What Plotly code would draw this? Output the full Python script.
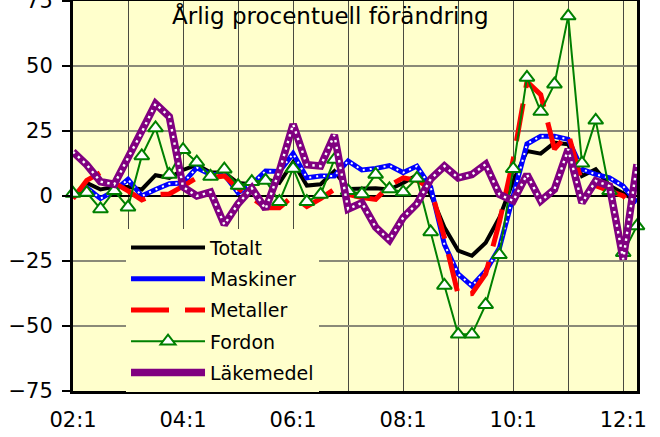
import plotly.graph_objects as go

quarters = [f"{y:02d}:{q}" for y in range(2, 13) for q in range(1, 5)][:42]
tick_quarters = quarters[0::4]
tick_labels = [q if int(q[:2]) % 2 == 0 else "" for q in tick_quarters]

totalt = [0, 5, 2.5, 3.5, 3.5, 2.5, 8, 7, 10, 12, 9, 9, 5, 4.5, 6.5, 5, 13, 4, 4.5, 9.5,
          2.7, 2.7, 3, 2.5, 5, 8, 0.6, -12, -21, -23, -18, -8.3, 5.8, 17.3, 16.3, 20.5, 19.9, 7.7, 10.3, 4,
          1, -2]
maskiner = [-0.6, 3.2, -1, 2, 6.4, 0, 2.5, 4.7, 5, 10.9, 8.3, 8.3, 1.3, 4.5, 9.6, 9.4, 16.3, 7, 7.7, 7.7,
            13.5, 10, 10.6, 11.7, 9, 11.5, 3.5, -18.6, -30, -34.6, -28.8, -20, 0, 20, 23, 23, 21.8, 10.3, 8.3, 7,
            3.8, -2.6]
metaller = [-1, 6, 9, 5, 2, -1.5, 0.6, 0.8, 3.8, 7, 7, 7.7, 3, -1, -4.5, -4.5, 0, -4, -1, 2.6,
            0.6, -0.6, -1.3, 4, 7, 6, 3, -16, -38, -37.5, -30, -10, 14, 44, 39, 18, 24, 5, 4, 2,
            0, -5]
fordon = [1, 1.3, -5, 2, -4.3, 15.4, 26.2, 8.3, 17.8, 13, 7.5, 10.3, 4, 5.5, 6, -2.2, 10.6, -2.2, 0.6, 14,
          2, 0.8, 8.3, 2.7, 1.5, 6.8, -13.8, -34.4, -53.2, -53.2, -41.8, -22.6, 10.5, 45.6, 32.5, 43, 69.2, 12.6, 29.1, 2,
          -21.8, -11.5]
lakemedel = [17, 12, 5.5, 4.5, 14.7, 24.5, 35.5, 30.5, 3.5, 0, 1.5, -11, -3, 3, -5, 9.5, 27.6, 12, 11.5, 23.5,
             -5, -2.6, -12, -17, -8.3, -3, 6.5, 11.5, 7, 8.3, 12.2, 0.6, -1.9, 8.3, -1.9, 2.6, 18, -2.6, 5.8, 3.8,
             -24.4, 12.2]

FONT = "DejaVu Sans"
BG = "#FFFFCC"

fig = go.Figure()

fig.add_trace(go.Scatter(x=quarters, y=totalt, name="Totalt", mode="lines",
                         line=dict(color="black", width=4), legendgroup="a", cliponaxis=False))
fig.add_trace(go.Scatter(x=quarters, y=maskiner, name="Maskiner", mode="lines",
                         line=dict(color="#0000FF", width=5), legendgroup="b", cliponaxis=False))
fig.add_trace(go.Scatter(x=quarters, y=maskiner, mode="lines", showlegend=False, hoverinfo="skip",
                         line=dict(color="white", width=2, dash="2px,5px"), legendgroup="b", cliponaxis=False))
fig.add_trace(go.Scatter(x=quarters, y=metaller, name="Metaller", mode="lines",
                         line=dict(color="#FF0000", width=5, dash="38px,16px"), legendgroup="c", cliponaxis=False))
fig.add_trace(go.Scatter(x=quarters, y=fordon, name="Fordon", mode="lines+markers",
                         line=dict(color="#008000", width=2),
                         marker=dict(symbol="triangle-up", size=13, color="white",
                                     line=dict(color="#008000", width=2)),
                         legendgroup="d", cliponaxis=False))
fig.add_trace(go.Scatter(x=quarters, y=lakemedel, name="Läkemedel", mode="lines",
                         line=dict(color="#800080", width=7.5), legendgroup="e", cliponaxis=False))
fig.add_trace(go.Scatter(x=quarters, y=lakemedel, mode="lines", showlegend=False, hoverinfo="skip",
                         line=dict(color="white", width=2.4, dash="2.4px,4.4px"), legendgroup="e", cliponaxis=False))

fig.add_annotation(text="Årlig procentuell förändring", xref="paper", yref="paper",
                   x=0.456, y=0.962, xanchor="center", yanchor="middle", showarrow=False,
                   font=dict(family=FONT, size=23, color="black"))

fig.update_layout(
    width=660, height=437,
    margin=dict(l=73, r=23, t=1, b=46, autoexpand=False),
    paper_bgcolor="white", plot_bgcolor=BG,
    font=dict(family=FONT, size=21, color="black"),
    showlegend=True,
    legend=dict(x=0.094, y=0.416, xanchor="left", yanchor="top",
                bgcolor=BG, borderwidth=0, font=dict(family=FONT, size=19, color="black"),
                itemwidth=74, tracegroupgap=3.5, traceorder="grouped",
                entrywidth=175, entrywidthmode="pixels"),
    xaxis=dict(type="category", categoryorder="array", categoryarray=quarters,
               range=[0, len(quarters) - 1], automargin=False,
               tickmode="array", tickvals=tick_quarters, ticktext=tick_labels,
               showgrid=True, gridcolor="#4a4a40", gridwidth=1,
               showline=True, linecolor="black", linewidth=3, mirror=True,
               ticks="", ticklabelstandoff=8, tickfont=dict(size=21)),
    yaxis=dict(range=[-75, 75], tickmode="linear", tick0=-75, dtick=25, automargin=False,
               ticklabeloverflow="allow",
               showgrid=True, gridcolor="#8a8a78", gridwidth=1.5,
               zeroline=True, zerolinecolor="black", zerolinewidth=1.5,
               showline=True, linecolor="black", linewidth=3, mirror=True,
               ticks="outside", ticklen=8, tickcolor="black", tickwidth=1.5,
               ticklabelstandoff=5, tickfont=dict(size=21)),
)

fig.write_html("out.html", config={"displayModeBar": False},
               post_script="document.body.style.margin='0';document.body.style.overflow='hidden';")
